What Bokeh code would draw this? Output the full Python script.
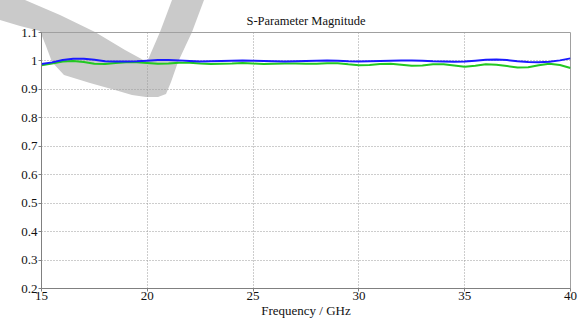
from urllib.parse import quote
from bokeh.plotting import figure
from bokeh.models import Range1d, FixedTicker, CustomJSTickFormatter
from bokeh.embed import file_html
from bokeh.resources import INLINE

# ---- data ----
freq = [15.0, 15.5, 16.0, 16.5, 17.0, 17.5, 18.0, 18.5, 19.0, 19.5,
        20.0, 20.5, 21.0, 21.5, 22.0, 22.5, 23.0, 23.5, 24.0, 24.5,
        25.0, 25.5, 26.0, 26.5, 27.0, 27.5, 28.0, 28.5, 29.0, 29.5,
        30.0, 30.5, 31.0, 31.5, 32.0, 32.5, 33.0, 33.5, 34.0, 34.5,
        35.0, 35.5, 36.0, 36.5, 37.0, 37.5, 38.0, 38.5, 39.0, 39.5, 40.0]
s_blue = [0.989, 0.995, 1.003, 1.008, 1.008, 1.004, 0.999, 0.998, 0.998, 0.999,
          1.001, 1.003, 1.003, 1.002, 1.000, 0.998, 0.999, 1.000, 1.001, 1.002,
          1.001, 1.000, 0.999, 0.998, 0.999, 1.000, 1.001, 1.002, 1.001, 0.999,
          0.998, 0.999, 1.000, 1.001, 1.002, 1.002, 1.001, 0.999, 0.998, 0.997,
          0.998, 1.001, 1.004, 1.005, 1.003, 0.999, 0.996, 0.995, 0.997, 1.002, 1.009]
s_green = [0.985, 0.991, 0.998, 1.000, 0.996, 0.990, 0.989, 0.993, 0.995, 0.995,
           0.993, 0.990, 0.991, 0.994, 0.994, 0.991, 0.989, 0.990, 0.991, 0.993,
           0.991, 0.989, 0.990, 0.991, 0.991, 0.990, 0.990, 0.992, 0.992, 0.988,
           0.985, 0.986, 0.989, 0.990, 0.987, 0.983, 0.984, 0.988, 0.988, 0.984,
           0.980, 0.983, 0.988, 0.987, 0.982, 0.977, 0.978, 0.985, 0.990, 0.986, 0.975]
x_ticks = [15, 20, 25, 30, 35, 40]
y_ticks = [0.2, 0.3, 0.4, 0.5, 0.6, 0.7, 0.8, 0.9, 1.0, 1.1]
title_text = "S-Parameter Magnitude"
x_label = "Frequency / GHz"

FONT = "'Liberation Serif', serif"

W, H = 580, 322

# decorative grey brush stroke behind the chart (page pixel outline)
swoosh = [(0, 0), (25, 0), (60, 15), (95, 32), (125, 50), (147, 62),
          (160, 32), (172, 0), (204, 0), (192, 32), (178, 62), (171, 82),
          (166, 94), (158, 97), (146, 97), (132, 95), (115, 90), (90, 83),
          (64, 75), (52, 62), (46, 46), (40, 31), (20, 26), (0, 20)]
pts = " ".join(f"{a},{b}" for a, b in swoosh)
svg = (f"<svg xmlns='http://www.w3.org/2000/svg' width='{W}' height='{H}'>"
       f"<polygon points='{pts}' fill='rgb(202,202,202)'/></svg>")
bg = 'url("data:image/svg+xml;charset=utf-8,' + quote(svg) + '")'

p = figure(width=W, height=H, output_backend="svg", toolbar_location=None,
           x_range=Range1d(15, 40), y_range=Range1d(0.2, 1.1),
           min_border_left=41, min_border_right=10, min_border_top=32, min_border_bottom=34)
p.styles = {"background-image": bg, "background-repeat": "no-repeat",
            "background-color": "white"}

p.title.text = title_text
p.title.text_font = FONT
p.title.text_font_size = "12.5px"
p.title.text_font_style = "normal"
p.title.text_color = "#111111"
p.title.align = "center"

p.background_fill_alpha = 0
p.border_fill_alpha = 0
p.outline_line_color = "#a0a0a0"
p.outline_line_width = 1

p.xaxis.ticker = FixedTicker(ticks=x_ticks)
p.yaxis.ticker = FixedTicker(ticks=y_ticks)
p.yaxis.formatter = CustomJSTickFormatter(code="return (Math.round(tick*10)/10).toString();")
p.xaxis.formatter = CustomJSTickFormatter(code="return Math.round(tick).toString();")

for ax in (p.xaxis, p.yaxis):
    ax.axis_line_color = "#808080"
    ax.major_tick_line_color = "#808080"
    ax.minor_tick_line_color = None
    ax.major_tick_out = 3
    ax.major_tick_in = 0
    ax.major_label_text_font = FONT
    ax.major_label_text_font_size = "13px"
    ax.major_label_text_color = "#111111"
    ax.major_label_standoff = 1

p.xaxis.major_label_standoff = 0
p.xaxis.axis_label = x_label
p.xaxis.axis_label_text_font = FONT
p.xaxis.axis_label_text_font_size = "13px"
p.xaxis.axis_label_text_font_style = "normal"
p.xaxis.axis_label_text_color = "#111111"
p.xaxis.axis_label_standoff = 0

for g in (p.xgrid, p.ygrid):
    g.grid_line_color = "#9a9a9a"
    g.grid_line_dash = "1 2"
    g.grid_line_width = 1

p.line(freq, s_green, line_color="#22c822", line_width=2)
p.line(freq, s_blue, line_color="#1a1aff", line_width=2)

open("out.html", "w").write(file_html(p, INLINE))
